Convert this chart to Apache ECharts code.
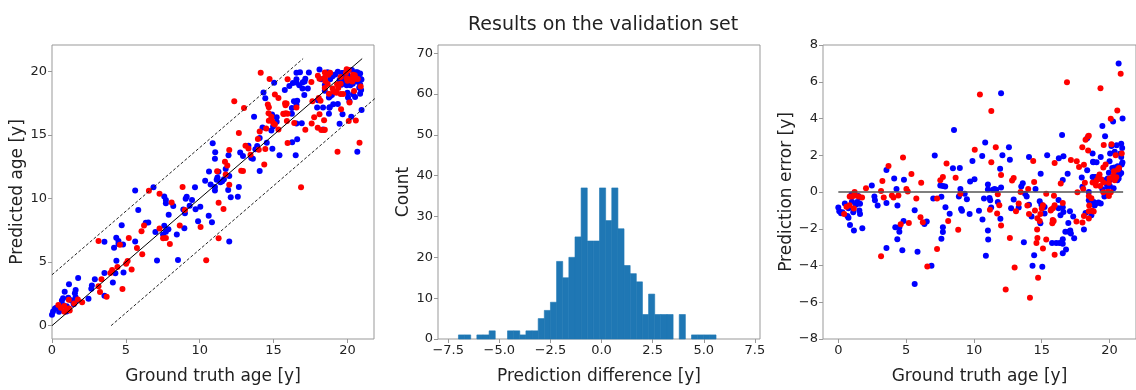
<!DOCTYPE html>
<html>
<head>
<meta charset="utf-8">
<script src="https://cdn.jsdelivr.net/npm/echarts@6/dist/echarts.min.js"></script>
<style>
  html, body { margin: 0; padding: 0; background: #fff; }
  #chart { width: 1136px; height: 390px; }
</style>
</head>
<body>
<div id="chart"></div>
<script>
// [ground truth age, prediction error]; error = truth - predicted
const bluePts = [
  [0.0,-0.85],[0.07,-1.05],[0.2,-1.15],[0.3,-1.1],[0.48,-0.62],[0.67,-1.3],[0.75,-0.88],[0.75,-1.4],
  [0.86,-1.8],[0.98,-0.14],[1.0,-0.53],[1.1,-1.1],[1.15,-2.1],[1.3,-0.7],[1.39,-0.55],[1.47,-0.22],
  [1.55,-1.0],[1.6,-1.2],[1.6,-0.64],[1.6,-0.3],[1.77,-1.97],[2.47,0.36],[2.66,-0.24],[2.7,-0.45],
  [2.9,-0.74],[3.55,-0.6],[3.55,1.2],[3.55,-3.05],
  [4.12,0.73],[4.29,0.16],[4.36,-0.74],[4.2,-1.92],[4.5,-1.92],[4.5,-2.16],[4.35,-2.57],[4.81,-1.58],
  [4.72,-3.17],[4.84,0.67],[5.63,-0.99],[5.84,-3.25],[5.63,-5.0],[6.35,-1.74],[6.52,-1.6],[6.87,-4.02],
  [7.11,1.99],[7.0,-0.36],[7.52,0.36],[7.71,0.33],[7.88,0.3],[7.6,-0.26],[7.9,-0.83],[7.71,-2.18],
  [7.71,-1.92],[7.6,-2.55],
  [8.21,-1.19],[8.45,1.29],[8.53,3.37],[8.96,1.3],[8.89,-0.25],[9.0,0.16],[9.05,-0.93],[9.12,-1.02],
  [9.32,-0.1],[9.48,-0.4],[9.68,-1.2],[9.72,0.57],[10.04,0.69],[9.89,1.69],[10.37,-1.02],[10.61,1.96],
  [10.63,-1.5],[10.83,2.7],[12.0,5.38],[10.74,-0.36],[11.03,0.41],[11.03,0.13],[11.15,-0.33],[11.2,-0.45],
  [11.27,-0.84],[11.03,-2.1],[11.05,-2.58],[10.88,-3.47],[11.4,0.12],[11.52,0.17],[11.64,0.12],[11.76,-0.55],
  [12.0,0.24],[11.93,1.26],[11.95,-1.45],[12.1,2.0],
  [12.58,2.44],[12.65,1.75],[12.93,-0.41],[12.74,-0.88],[13.3,-0.85],[13.49,0.3],[13.6,0.47],[13.68,-2.74],
  [13.77,-0.1],[13.89,-0.24],[14.06,-0.7],[14.06,1.9],[14.25,-1.34],[14.54,0.16],[14.44,-3.44],[14.32,-4.02],
  [15.04,-4.07],[14.85,-0.5],[14.92,1.0],[14.97,-0.69],[14.9,-1.7],[15.21,-0.82],[15.21,-1.17],[15.4,2.0],
  [15.76,-2.78],
  [16.5,3.1],[16.26,1.84],[16.6,1.95],[16.91,1.0],[16.55,0.65],[16.24,-0.43],[16.24,-0.88],[16.55,-0.83],
  [16.38,-1.26],[16.6,-1.09],[17.08,-1.05],[17.32,-1.33],[16.96,-1.69],[16.74,-2.17],[16.98,-2.17],[17.1,-2.09],
  [17.15,-2.26],[17.39,-2.52],[16.55,-2.57],[16.07,-2.78],[16.31,-2.78],[16.55,-2.82],[16.79,-3.13],[16.55,-3.34],
  [18.11,-2.04],[18.23,-1.14],[18.35,2.92],[18.78,1.64],[18.35,1.19],[17.95,0.79],[18.0,0.28],[18.83,0.8],
  [18.47,0.0],
  [20.67,6.99],[20.26,3.84],[20.96,4.0],[19.47,3.59],[19.67,3.04],[18.75,2.09],[20.14,2.5],[20.52,2.54],
  [20.86,2.63],[20.93,2.4],[20.04,2.1],[20.38,2.19],[20.86,1.9],[19.35,1.91],[18.8,1.62],[19.04,1.62],
  [20.0,1.68],[20.36,1.34],[20.9,1.5],[20.86,1.04],[20.5,0.95],[19.86,0.74],[18.95,0.81],[18.75,0.81],
  [19.59,0.64],[19.71,0.52],[19.9,0.6],[20.14,0.69],[20.57,0.64],[20.67,0.74],[19.78,0.45],[20.02,0.32],
  [19.83,0.27],[19.47,0.15],[19.71,-0.16],[19.62,-0.24],[18.47,-0.45],[18.83,-0.54],[19.0,-0.62],[19.18,-0.57],
  [19.35,-0.62],[18.9,-0.74],[18.66,-1.26],[20.7,1.2],[20.8,2.1],[20.95,1.6],[20.2,1.3],[19.95,1.05],
  [20.3,0.2],[20.6,1.4],[20.75,0.95]
];

const redPts = [
  [0.43,-1.2],[0.6,-0.8],[0.83,-0.72],[0.84,-0.25],[1.0,-0.24],[1.14,-0.9],[1.15,-0.2],[1.2,0.0],
  [1.5,-0.25],[1.75,-0.3],[2.04,0.2],[3.15,0.05],[3.25,0.6],[3.35,-0.3],[3.7,1.42],[3.15,-3.5],
  [3.95,-0.19],[4.07,-0.3],[4.43,-0.19],[4.6,-1.76],[4.77,1.88],[5.02,0.16],[5.12,0.03],[5.2,-1.69],
  [5.39,0.98],[5.75,-0.36],[6.06,-1.37],[6.11,0.5],[6.23,-1.65],[6.56,-4.05],[7.28,-0.36],[7.28,-3.1],
  [7.52,0.64],[7.71,0.81],[7.98,1.55],
  [8.65,0.78],[8.1,-1.58],[8.84,-2.06],[9.0,-0.1],[10.06,2.3],[10.44,5.3],[11.28,4.41],[11.28,1.62],
  [11.61,2.43],[11.18,-0.96],[11.76,-0.12],[11.87,-0.72],[12.0,0.92],[11.71,-1.17],[12.0,-1.82],
  [12.65,-2.5],[12.34,-5.3],[13.0,-4.11],[12.81,0.62],[12.93,0.76],[13.1,-1.05],[13.3,-0.63],[13.44,0.0],
  [14.0,0.16],[13.94,-0.73],[14.06,-1.2],[14.13,-5.76],[14.37,1.69],[14.44,0.54],[14.66,-2.04],[14.61,-2.78],
  [14.68,-2.5],[14.73,-4.67],[15.09,-3.08],[14.68,-1.43],[14.85,-1.58],[15.09,-0.72],[15.33,-2.58],[15.33,-0.1],
  [15.69,-0.95],[15.81,-1.52],[14.9,-1.2],[15.0,-0.9],[14.5,-1.0],
  [16.86,5.97],[15.95,1.58],[17.15,1.74],[17.58,1.68],[16.4,0.46],[17.99,2.43],[18.23,2.84],[18.42,3.04],
  [18.42,2.26],[17.75,1.36],[18.11,1.48],[18.18,0.5],[18.06,0.16],[17.63,-0.02],[15.9,-0.2],[15.95,-0.72],
  [16.55,-0.6],[15.83,-0.88],[15.66,-1.0],[15.88,-1.58],[15.78,-1.7],[17.56,-1.61],[15.95,-3.42],[18.0,-1.66],
  [18.11,-1.31],[18.47,-1.05],
  [20.82,6.43],[19.33,5.65],[20.57,4.44],[20.09,3.99],[18.47,3.06],[19.57,2.56],[20.14,2.6],[20.45,2.0],
  [19.71,1.5],[19.54,1.33],[20.33,1.13],[20.62,1.22],[20.26,0.87],[20.0,0.74],[19.26,0.95],[19.18,0.81],
  [18.75,0.52],[19.06,0.64],[19.38,0.69],[19.54,0.52],[19.95,0.5],[20.38,0.64],[19.0,0.35],[19.3,0.32],
  [19.54,-0.02],[19.9,0.02],[20.09,-0.02],[19.95,-0.22],[18.47,-0.22],[18.66,-0.34],[18.5,-0.74],[18.71,-1.02],
  [18.83,-1.06],[18.47,-1.44],[20.9,2.1],[20.7,1.3],[20.5,0.8]
];

// histogram of prediction difference (predicted - truth)
const binStart = -7.0;
const binWidth = 0.3;
const binCounts = [1,1,0,1,1,2,0,0,2,2,1,2,2,5,7,9,19,15,20,25,37,24,24,37,29,37,27,18,16,14,6,11,6,6,6,0,6,0,1,1,1,1];

const ageTicks = [0, 5, 10, 15, 20];
const diffTicks = [-7.5, -5, -2.5, 0, 2.5, 5, 7.5];

const FONT = "DejaVu Sans";
const minus = s => String(s).replace("-", "\u2212");

const predOf = p => [p[0], +(p[0] - p[1]).toFixed(2)];

const histData = binCounts.map((c, i) => [binStart + i * binWidth, binStart + (i + 1) * binWidth, c]);

const chart = echarts.init(document.getElementById("chart"), null, { renderer: "canvas" });

const tickStyle = { color: "#999", width: 1 };
const labelStyle = { color: "#222", fontSize: 13, fontFamily: FONT, margin: 5 };

function axis(opts, custom, fmt) {
  const a = {
    type: "value",
    axisLine: { show: false, onZero: false },
    axisTick: { show: true, inside: false, length: 4, lineStyle: tickStyle },
    axisLabel: Object.assign({}, labelStyle, { formatter: fmt || (v => minus(v)) }),
    splitLine: { show: false },
    nameLocation: "middle",
    nameTextStyle: { color: "#222", fontSize: 17, fontFamily: FONT },
  };
  if (custom) {
    a.axisTick.customValues = custom;
    a.axisLabel.customValues = custom;
  }
  return Object.assign(a, opts);
}

const gridBase = { show: true, borderColor: "#999", borderWidth: 1, backgroundColor: "transparent" };

chart.setOption({
  animation: false,
  title: {
    text: "Results on the validation set",
    left: 463, top: 11,
    textStyle: { fontFamily: FONT, fontSize: 19, fontWeight: "normal", color: "#222" },
  },
  grid: [
    Object.assign({ left: 52, top: 45, width: 322, height: 308 }, gridBase),
    Object.assign({ left: 438, top: 45, width: 322, height: 308 }, gridBase),
    Object.assign({ left: 823, top: 45, width: 322, height: 308 }, gridBase),
  ],
  xAxis: [
    axis({ gridIndex: 0, min: 0, max: 21.8, name: "Ground truth age [y]", nameGap: 29 }, ageTicks),
    axis({ gridIndex: 1, min: -8, max: 7.75, name: "Prediction difference [y]", nameGap: 29 }, diffTicks,
      v => minus(v.toFixed(1))),
    axis({ gridIndex: 2, min: -1.13, max: 21.95, name: "Ground truth age [y]", nameGap: 29 }, ageTicks),
  ],
  yAxis: [
    axis({ gridIndex: 0, min: -1.05, max: 22.07, name: "Predicted age [y]", nameGap: 20 }, ageTicks),
    axis({ gridIndex: 1, min: 0, max: 72, interval: 10, name: "Count", nameGap: 24 }),
    axis({ gridIndex: 2, min: -8, max: 8, interval: 2, name: "Prediction error [y]", nameGap: 24 }),
  ],
  series: [
    // panel 1: predicted vs truth
    { type: "line", xAxisIndex: 0, yAxisIndex: 0, data: [[0, 0], [21, 21]], symbol: "none",
      lineStyle: { color: "#000", width: 1 }, z: 5 },
    { type: "line", xAxisIndex: 0, yAxisIndex: 0, data: [[0, 4], [17, 21]], symbol: "none",
      lineStyle: { color: "#222", width: 1, type: [3, 2] }, z: 5 },
    { type: "line", xAxisIndex: 0, yAxisIndex: 0, data: [[4, 0], [22, 18]], symbol: "none", clip: true,
      lineStyle: { color: "#222", width: 1, type: [3, 2] }, z: 5 },
    { type: "scatter", xAxisIndex: 0, yAxisIndex: 0, data: bluePts.map(predOf), symbolSize: 6,
      itemStyle: { color: "#0000ff", opacity: 1 }, z: 3 },
    { type: "scatter", xAxisIndex: 0, yAxisIndex: 0, data: redPts.map(predOf), symbolSize: 6,
      itemStyle: { color: "#ff0000", opacity: 1 }, z: 3 },
    // panel 2: histogram
    { type: "custom", xAxisIndex: 1, yAxisIndex: 1, data: histData,
      renderItem: (params, api) => {
        if (!api.value(2)) return;
        const p0 = api.coord([api.value(0), api.value(2)]);
        const p1 = api.coord([api.value(1), 0]);
        return { type: "rect", shape: { x: p0[0], y: p0[1], width: p1[0] - p0[0], height: p1[1] - p0[1] },
          style: { fill: "#1f77b4", stroke: "#1f77b4", lineWidth: 0.6 } };
      } },
    // panel 3: error vs truth
    { type: "line", xAxisIndex: 2, yAxisIndex: 2, data: [[0, 0], [21, 0]], symbol: "none",
      lineStyle: { color: "#555", width: 1.5 }, z: 5 },
    { type: "scatter", xAxisIndex: 2, yAxisIndex: 2, data: bluePts, symbolSize: 6,
      itemStyle: { color: "#0000ff", opacity: 1 }, z: 3 },
    { type: "scatter", xAxisIndex: 2, yAxisIndex: 2, data: redPts, symbolSize: 6,
      itemStyle: { color: "#ff0000", opacity: 1 }, z: 3 },
  ],
});
window.addEventListener("resize", () => chart.resize());
</script>
</body>
</html>
